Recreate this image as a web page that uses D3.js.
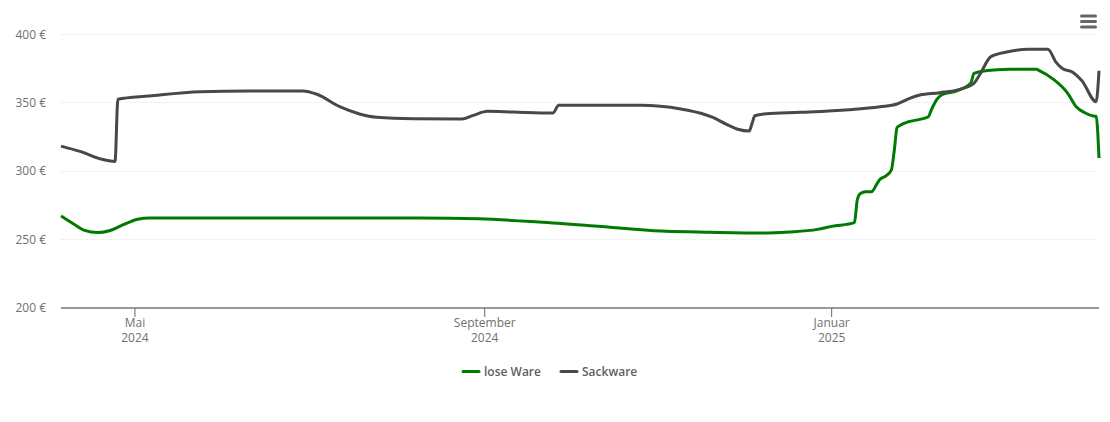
<!DOCTYPE html>
<html><head><meta charset="utf-8">
<script src="https://cdn.jsdelivr.net/npm/d3@7/dist/d3.min.js"></script>
<style>html,body{margin:0;padding:0;background:#fff}svg{display:block}text{font-family:"Open Sans",sans-serif}</style>
</head><body><svg id="c" width="1110" height="422"></svg>
<script>
const looseDates = ["2024-04-05","2024-04-10","2024-04-13","2024-04-18","2024-04-22","2024-04-26","2024-05-02","2024-05-06","2024-05-15","2024-08-09","2024-08-30","2024-09-20","2024-10-12","2024-11-02","2024-11-15","2024-12-07","2024-12-17","2024-12-27","2025-01-01","2025-01-09","2025-01-10","2025-01-11","2025-01-13","2025-01-15","2025-01-17","2025-01-18","2025-01-20","2025-01-22","2025-01-23","2025-01-24","2025-01-25","2025-01-28","2025-02-01","2025-02-04","2025-02-05","2025-02-07","2025-02-09","2025-02-14","2025-02-19","2025-02-20","2025-02-27","2025-03-05","2025-03-14","2025-03-15","2025-03-20","2025-03-25","2025-03-28","2025-03-31","2025-04-03","2025-04-04","2025-04-05"];
const looseValues = [267.3,260.7,257,255.2,256.5,260,264.9,265.8,265.8,265.8,265.2,262.9,259.6,256.3,255.6,254.8,255.6,257.5,259.7,262.4,279,283.6,285,285,291.2,294.1,296.5,301,315,332,333.5,336.2,337.9,339.8,344.7,352.6,356.2,358.8,364.8,371.6,374,374.5,374.5,373.6,367.2,357,347.2,342.8,340.4,340.2,309.7];
const sackDates = ["2024-04-05","2024-04-12","2024-04-19","2024-04-24","2024-04-25","2024-05-06","2024-05-24","2024-06-10","2024-06-29","2024-07-04","2024-07-12","2024-07-19","2024-07-25","2024-08-07","2024-08-24","2024-08-28","2024-09-02","2024-09-11","2024-09-25","2024-09-27","2024-10-26","2024-11-09","2024-11-16","2024-11-20","2024-11-25","2024-11-29","2024-12-03","2024-12-04","2024-12-05","2024-12-09","2024-12-21","2025-01-07","2025-01-18","2025-01-24","2025-01-28","2025-02-01","2025-02-08","2025-02-15","2025-02-20","2025-02-22","2025-02-26","2025-03-04","2025-03-11","2025-03-18","2025-03-21","2025-03-23","2025-03-27","2025-03-30","2025-04-04","2025-04-05"];
const sackValues = [318.4,314.3,308.9,307.2,352.6,355,358.2,358.7,358.7,356.3,347.2,341.9,339.5,338.4,338.2,340.9,343.8,343.3,342.6,348.2,348.2,345.5,342.4,339.5,334.3,330.7,329.4,335,340.6,342.1,343.1,345,347.2,349.2,353,355.7,357.4,359.9,364.3,370.4,383.8,387.4,389.2,389.2,379.4,375.3,372.1,366.2,350.9,373.5];
const yTicks = [200,250,300,350,400];
const xTickDates = ["2024-05-01","2024-09-01","2025-01-01"];
const xTickMonths = ["Mai","September","Januar"];
const xTickYears = ["2024","2024","2025"];
const seriesNames = ["lose Ware","Sackware"];
const seriesColors = ["#007a00","#484848"];

const parse = d3.utcParse("%Y-%m-%d");
const svg = d3.select("#c");
const x = d3.scaleUtc().domain([parse("2024-04-05"),parse("2025-04-05")]).range([61,1099]);
const y = d3.scaleLinear().domain([200,400]).range([308,34.5]);

// grid
svg.append("g").selectAll("line").data(yTicks.filter(t=>t>200)).join("line")
  .attr("x1",61).attr("x2",1099)
  .attr("y1",d=>Math.floor(y(d))+0.5).attr("y2",d=>Math.floor(y(d))+0.5)
  .attr("stroke","#e6e6e6").attr("stroke-dasharray","1,1");

// y labels
svg.append("g").selectAll("text").data(yTicks).join("text")
  .attr("x",46).attr("y",d=>y(d)+4).attr("text-anchor","end")
  .attr("font-size",12).attr("fill","#707070").text(d=>d+" €");

// x axis
svg.append("line").attr("x1",61).attr("x2",1099).attr("y1",308).attr("y2",308)
  .attr("stroke","#777").attr("stroke-width",1.5);
const tk = svg.append("g").selectAll("g").data(xTickDates).join("g")
  .attr("transform",d=>`translate(${x(parse(d))},0)`);
tk.append("line").attr("y1",308).attr("y2",317).attr("stroke","#666");
tk.append("text").attr("y",327).attr("text-anchor","middle").attr("font-size",12).attr("fill","#707070")
  .text((d,i)=>xTickMonths[i]);
tk.append("text").attr("y",342).attr("text-anchor","middle").attr("font-size",12).attr("fill","#707070")
  .text((d,i)=>xTickYears[i]);

// lines
const line = d3.line().x(d=>x(d[0])).y(d=>y(d[1])).curve(d3.curveMonotoneX);
const toPts = (ds,vs)=>ds.map((d,i)=>[parse(d),vs[i]]);
[toPts(looseDates,looseValues),toPts(sackDates,sackValues)].forEach((pts,i)=>{
  svg.append("path").attr("d",line(pts)).attr("fill","none")
    .attr("stroke",seriesColors[i]).attr("stroke-width",3)
    .attr("stroke-linejoin","round");
});

// legend
const legendX = [463,561];
const lg = svg.append("g").selectAll("g").data(seriesNames).join("g")
  .attr("transform",(d,i)=>`translate(${legendX[i]},371.5)`);
lg.append("line").attr("x1",0).attr("x2",16).attr("stroke",(d,i)=>seriesColors[i])
  .attr("stroke-width",3).attr("stroke-linecap","round");
lg.append("text").attr("x",21).attr("y",4.5).attr("font-size",12).attr("font-weight",600)
  .attr("fill","#5f5f5f").text(d=>d);

// menu icon
svg.append("g").selectAll("line").data([16,21.5,27]).join("line")
  .attr("x1",1081.5).attr("x2",1095.5).attr("y1",d=>d).attr("y2",d=>d)
  .attr("stroke","#666").attr("stroke-width",3).attr("stroke-linecap","round");
</script></body></html>
